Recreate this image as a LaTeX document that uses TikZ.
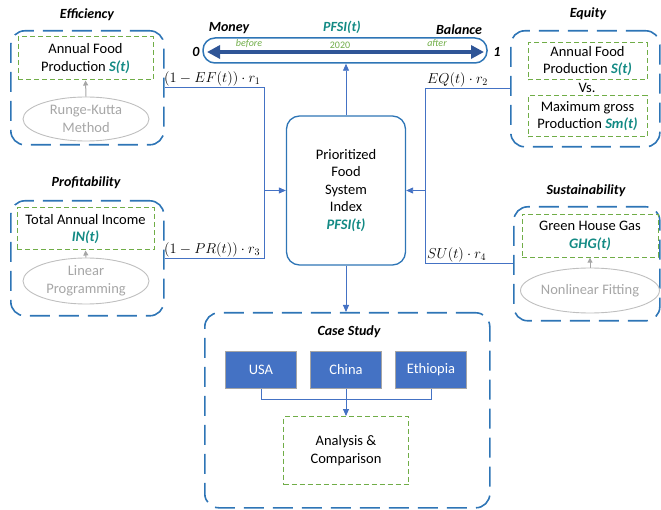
\documentclass[tikz,border=0pt]{standalone}
\usepackage{fontspec}
\setmainfont{Carlito}
\usetikzlibrary{arrows.meta,shapes.geometric}
\definecolor{dblue}{HTML}{2E75B6}
\definecolor{lblue}{HTML}{4472C4}
\definecolor{gr}{HTML}{70AD47}
\definecolor{tealc}{HTML}{138A84}
\definecolor{arrblue}{HTML}{2F5597}
\definecolor{ellc}{HTML}{BFBFBF}
\definecolor{grtext}{HTML}{A6A6A6}
\definecolor{boxedge}{HTML}{A5A5A5}
\newcommand\tealtext[1]{\textcolor{tealc}{\bfseries\itshape #1}}
\newcommand\mainfs{\fontsize{14.5}{17.5}\selectfont}
\tikzset{
 grp/.style={draw=dblue, line width=1.6pt, dash pattern=on 20pt off 9pt, rounded corners=14pt, inner sep=0pt, anchor=north west},
 gbox/.style={draw=gr, line width=1pt, dash pattern=on 5pt off 3pt, inner sep=0pt, align=center, font=\mainfs},
 ell/.style={ellipse, draw=ellc, line width=0.9pt, text=grtext, align=center, inner sep=0pt, font=\mainfs},
 conn/.style={draw=lblue, line width=0.9pt},
 arr/.style={-{Triangle[length=7pt,width=6pt]}},
 garr/.style={draw=grtext, line width=1pt, -{Triangle[length=5pt,width=5pt]}},
 ttl/.style={font=\fontsize{14}{16}\selectfont\bfseries\itshape},
 country/.style={fill=lblue, draw=boxedge, line width=1pt, text=white, minimum width=71pt, minimum height=37pt, inner sep=0pt, font=\mainfs},
 mlabel/.style={inner sep=1pt, anchor=south west, font=\fontsize{14.5}{16}\selectfont},
 bann/.style={inner sep=0pt}
}
\begin{document}
\begin{tikzpicture}[x=1pt,y=-1pt]
\useasboundingbox (0,0) rectangle (661,510);

% group boxes
\node[grp, minimum width=153pt, minimum height=114pt] (eff) at (10,30) {};
\node[grp, minimum width=153pt, minimum height=115pt] (prof) at (10,200) {};
\node[grp, minimum width=149pt, minimum height=116pt] (equ) at (510,30) {};
\node[grp, minimum width=146pt, minimum height=114pt] (sus) at (513,206) {};
\node[grp, minimum width=285pt, minimum height=195pt] (case) at (204,312) {};

% titles
\node[ttl] (teff) at (87,15) {Efficiency};
\node[ttl] (tprof) at (86,183) {Profitability};
\node[ttl] (tequ) at (588,14) {Equity};
\node[ttl] (tsus) at (586,191) {Sustainability};
\node[ttl] (tcase) at (349,332) {Case Study};

% efficiency contents
\node[gbox, minimum width=135pt, minimum height=43pt] (effS) at (85.5,58.5) {Annual Food\\Production \tealtext{S(t)}};
\node[ell, minimum width=126pt, minimum height=44pt] (effE) at (86,119) {Runge-Kutta\\Method};
\draw[garr] (effE.north) -- (effS.south);

% profitability contents
\node[gbox, minimum width=137pt, minimum height=42pt] (profS) at (85.5,229) {Total Annual Income\\\tealtext{IN(t)}};
\node[ell, minimum width=126pt, minimum height=46pt] (profE) at (86,281) {Linear\\Programming};
\draw[garr] (profE.north) -- (profS.south);

% equity contents
\node[gbox, minimum width=119pt, minimum height=37pt] (equS) at (587.5,61.3) {Annual Food\\Production \tealtext{S(t)}};
\node[inner sep=0pt, font=\mainfs] (vs) at (587,88) {Vs.};
\node[gbox, minimum width=119pt, minimum height=41pt] (equM) at (587.5,116.3) {Maximum gross\\Production \tealtext{Sm(t)}};

% sustainability contents
\node[gbox, minimum width=136pt, minimum height=43pt] (susS) at (590,235.7) {Green House Gas\\\tealtext{GHG(t)}};
\node[ell, minimum width=126pt, minimum height=45pt] (susE) at (590,290.5) {Nonlinear Fitting};
\draw[garr] (susE.north) -- (susS.south);

% central PFSI box
\node[draw=dblue, line width=1.3pt, rounded corners=13pt, minimum width=119pt, minimum height=149pt, inner sep=0pt, align=center, font=\mainfs] (pfsi) at (346,190.5) {Prioritized\\Food\\System\\Index\\\tealtext{PFSI(t)}};

% banner
\node[draw=dblue, line width=1.5pt, rounded corners=12pt, minimum width=284pt, minimum height=25pt, inner sep=0pt] (banner) at (345,50.5) {};
\coordinate (bl) at (207,52);
\coordinate (br) at (484,52);
\draw[draw=arrblue, line width=4pt, {Triangle[length=13pt,width=13pt]}-{Triangle[length=13pt,width=13pt]}] (bl) -- (br);
\node[ttl] (money) at (229,28) {Money};
\node[ttl, text=tealc] (pfsit) at (342,27) {PFSI(t)};
\node[ttl] (balance) at (459,30) {Balance};
\node[ttl] (zero) at (196,52) {0};
\node[ttl] (one) at (497,52) {1};
\node[bann, text=gr, font=\fontsize{10}{12}\selectfont\itshape] (before) at (249,43.5) {before};
\node[bann, text=gr, font=\fontsize{10}{12}\selectfont] (y2020) at (340,45) {2020};
\node[bann, text=gr, font=\fontsize{10}{12}\selectfont\itshape] (after) at (437,43.5) {after};

% connectors
\coordinate (jl) at (264,190.5);
\coordinate (jr) at (425.5,190.5);
\draw[conn] (eff.east) -| (jl);
\draw[conn] (prof.east) -| (jl);
\draw[conn, arr] (jl) -- (pfsi.west);
\draw[conn] (equ.west) -| (jr);
\draw[conn] (sus.west) -| (jr);
\draw[conn, arr] (jr) -- (pfsi.east);
\draw[conn, arr] (pfsi.north) -- (pfsi.north |- banner.south);
\draw[conn, arr] (pfsi.south) -- (pfsi.south |- case.north);

\node[mlabel] (lef) at (163,87) {$\bigl(1-EF(t)\bigr)\cdot r_1$};
\node[mlabel] (lpr) at (163,258.5) {$\bigl(1-PR(t)\bigr)\cdot r_3$};
\node[mlabel] (leq) at (426,88) {$EQ(t)\cdot r_2$};
\node[mlabel] (lsu) at (426,263) {$SU(t)\cdot r_4$};

% case study
\node[country] (usa) at (261,370) {USA};
\node[country] (china) at (346,370) {China};
\node[country] (eth) at (431,370) {Ethiopia};
\node[gbox, minimum width=125pt, minimum height=68pt] (ana) at (346,450.5) {Analysis \&\\Comparison};
\coordinate (jc) at (346,399);
\draw[conn] (usa.south) |- (jc);
\draw[conn] (eth.south) |- (jc);
\draw[conn, arr] (china.south) -- (ana.north);
\end{tikzpicture}
\end{document}
